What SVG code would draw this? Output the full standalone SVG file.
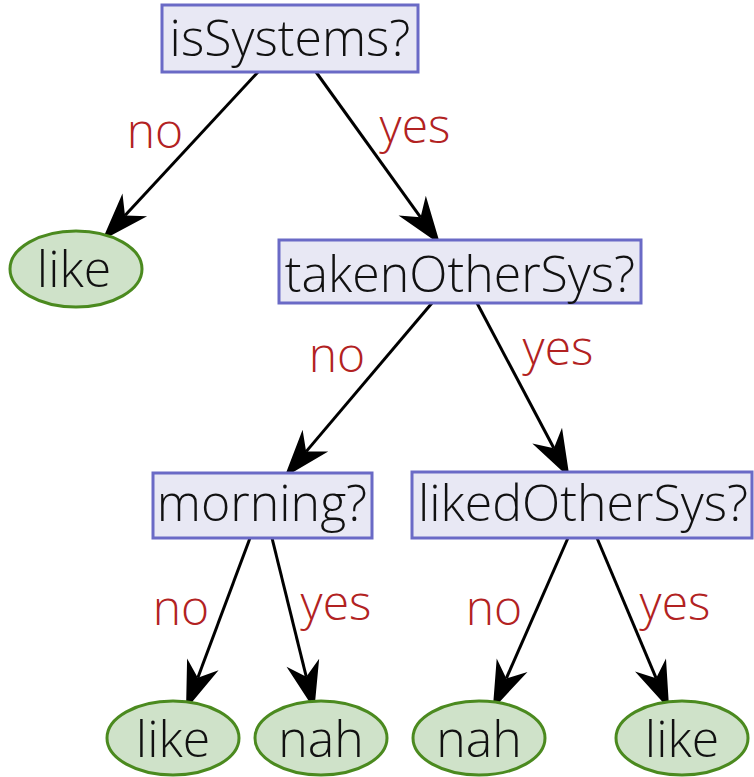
<svg xmlns="http://www.w3.org/2000/svg" width="754" height="777" viewBox="0 0 754 777">
<style>
.box{fill:#e8e8f4;stroke:#6a6ac6;stroke-width:3}
.leaf{fill:#cfe2c9;stroke:#4b8a1f;stroke-width:3}
.t{font-family:"Open Sans","Liberation Sans",sans-serif;font-weight:300;font-size:50px;fill:#111;text-anchor:middle}
.lbl{font-family:"Open Sans","Liberation Sans",sans-serif;font-weight:300;font-size:48px;fill:#b22222;text-anchor:middle}
.e{stroke:#000;stroke-width:3;fill:none;marker-end:url(#ah)}
</style>
<defs>
<marker id="ah" markerUnits="userSpaceOnUse" markerWidth="60" markerHeight="60" refX="0" refY="0" viewBox="-15 -20 50 40" orient="auto" overflow="visible">
<path d="M28,0 L-12,-14 L0,0 L-12,14 Z" fill="#000"/>
</marker>
</defs>
<g id="connectors">
<path class="e" d="M258,72 L125,215.5"/>
<path class="e" d="M316,72 L420.6,217.3"/>
<path class="e" d="M432,303 L306.1,451.6"/>
<path class="e" d="M477,303 L553.9,448.3"/>
<path class="e" d="M250,538 L197.8,677.8"/>
<path class="e" d="M272,538 L306.3,676.8"/>
<path class="e" d="M568,538 L506.3,678.4"/>
<path class="e" d="M597,538 L656.1,678.2"/>
<text class="lbl" x="155" y="148">no</text>
<text class="lbl" x="415" y="143">yes</text>
<text class="lbl" x="337" y="372">no</text>
<text class="lbl" x="558" y="365">yes</text>
<text class="lbl" x="181" y="625">no</text>
<text class="lbl" x="336" y="620">yes</text>
<text class="lbl" x="494" y="625">no</text>
<text class="lbl" x="675" y="620">yes</text>
</g>
<g id="isSystems">
<rect class="box" x="162" y="5" width="256" height="67"/>
<text class="t" x="290" y="56">isSystems?</text>
</g>
<g id="like1">
<ellipse class="leaf" cx="76" cy="269" rx="66" ry="38"/>
<text class="t" x="74" y="287">like</text>
</g>
<g id="takenOtherSys">
<rect class="box" x="279" y="240" width="362" height="63"/>
<text class="t" x="460" y="292">takenOtherSys?</text>
</g>
<g id="morning">
<rect class="box" x="153" y="473" width="219" height="65"/>
<text class="t" x="262" y="521">morning?</text>
</g>
<g id="likedOtherSys">
<rect class="box" x="412" y="472" width="340" height="66"/>
<text class="t" x="583" y="521">likedOtherSys?</text>
</g>
<g id="like2">
<ellipse class="leaf" cx="173" cy="738" rx="66" ry="37"/>
<text class="t" x="173" y="757">like</text>
</g>
<g id="nah1">
<ellipse class="leaf" cx="321" cy="738" rx="66" ry="37"/>
<text class="t" x="321" y="757">nah</text>
</g>
<g id="nah2">
<ellipse class="leaf" cx="479" cy="738" rx="66" ry="37"/>
<text class="t" x="479" y="757">nah</text>
</g>
<g id="like3">
<ellipse class="leaf" cx="682" cy="738" rx="66" ry="37"/>
<text class="t" x="682" y="757">like</text>
</g>
</svg>
